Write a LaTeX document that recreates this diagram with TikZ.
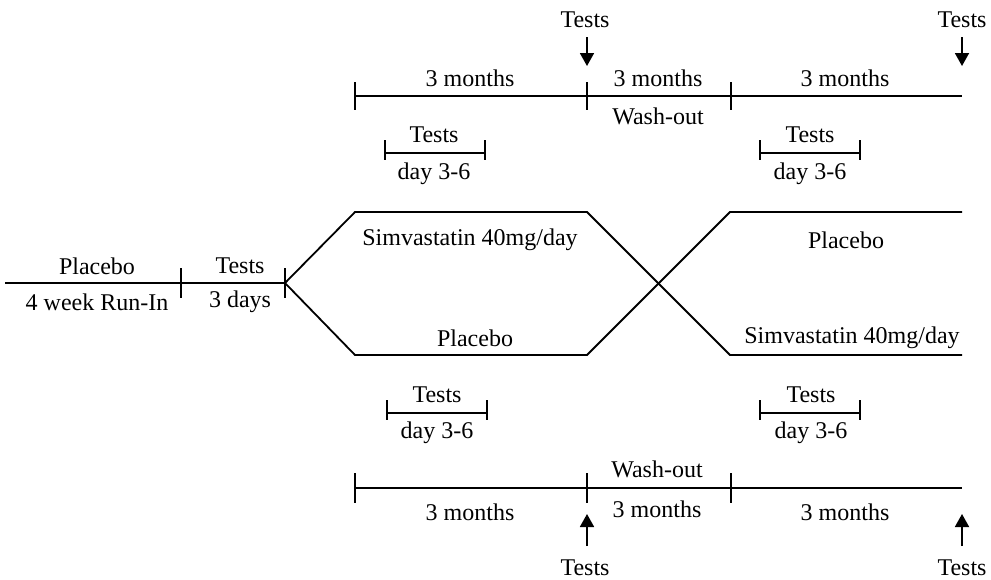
\documentclass[tikz,border=0pt]{standalone}
\usepackage{fontspec}
\setmainfont{Liberation Serif}
\usetikzlibrary{arrows.meta}
\usetikzlibrary{positioning}

\begin{document}
\begin{tikzpicture}
          [x=0.5pt, y=-0.5pt, line width=0.9pt,
           every node/.style={font=\fontsize{12}{14}\selectfont, inner sep=1pt},
           testarrow/.style={-{Triangle[length=6.5pt, width=7pt]}}]
          \useasboundingbox (0,0) rectangle (991,579);

          % run-in and the two arms
          \coordinate (s) at (5,283);
          \coordinate (r) at (181,283);
          \coordinate (v) at (285,283);
          \coordinate (ua) at (355,212);
          \coordinate (ub) at (587,212);
          \coordinate (uc) at (730,212);
          \coordinate (ud) at (962,212);
          \coordinate (la) at (355,355);
          \coordinate (lb) at (587,355);
          \coordinate (lc) at (730,355);
          \coordinate (ld) at (962,355);

          \draw (s) -- (v);
          \draw (r) ++(0,-15) -- ++(0,30);
          \draw (v) ++(0,-15) -- ++(0,30);
          \draw (v) -- (ua) -- (ub) -- (lc) -- (ld);
          \draw (v) -- (la) -- (lb) -- (uc) -- (ud);

          \node (plc0) at (97,266) {Placebo};
          \node (run) at (97,302) {4 week Run-In};
          \node (tst0) at (240,266) {Tests};
          \node (days) at (240,302) {3 days};
          \node (simA) at (470,240) {Simvastatin 40mg/day};
          \node (plcA) at (475,338) {Placebo};
          \node (plcB) at (846,240) {Placebo};
          \node (simB) at (852,338) {Simvastatin 40mg/day};

          % upper time line
          \coordinate (ta) at (355,96);
          \coordinate (tb) at (587,96);
          \coordinate (tc) at (731,96);
          \coordinate (td) at (962,96);
          \draw (ta) -- (td);
          \foreach \p in {ta,tb,tc}
            \draw (\p) ++(0,-14) -- ++(0,28);
          \node (mA1) at (470,78) {3 months};
          \node (mA2) at (658,78) {3 months};
          \node (mA3) at (845,78) {3 months};
          \node (wA) at (658,116) {Wash-out};

          \node (tA1) at (585,20) {Tests};
          \node (tA2) at (962,20) {Tests};
          \coordinate (aA1) at (587,37);
          \coordinate (hA1) at (587,66);
          \coordinate (aA2) at (962,37);
          \coordinate (hA2) at (962,66);
          \draw[testarrow] (aA1) -- (hA1);
          \draw[testarrow] (aA2) -- (hA2);

          % short test periods, upper
          \coordinate (ka) at (385,153);
          \coordinate (kb) at (485,153);
          \coordinate (kc) at (760,153);
          \coordinate (kd) at (860,153);
          \draw (ka) -- (kb);
          \draw (kc) -- (kd);
          \foreach \p in {ka,kb,kc,kd}
            \draw (\p) ++(0,-13) -- ++(0,20);
          \node (kt1) at (434,135) {Tests};
          \node (kd1) at (434,174) {day 3-6};
          \node (kt2) at (810,135) {Tests};
          \node (kd2) at (810,174) {day 3-6};

          % short test periods, lower
          \coordinate (qa) at (387,413);
          \coordinate (qb) at (487,413);
          \coordinate (qc) at (760,413);
          \coordinate (qd) at (860,413);
          \draw (qa) -- (qb);
          \draw (qc) -- (qd);
          \foreach \p in {qa,qb,qc,qd}
            \draw (\p) ++(0,-13) -- ++(0,20);
          \node (qt1) at (437,395) {Tests};
          \node (qd1) at (437,433) {day 3-6};
          \node (qt2) at (811,395) {Tests};
          \node (qd2) at (811,433) {day 3-6};

          % lower time line
          \coordinate (ba) at (355,488);
          \coordinate (bb) at (587,488);
          \coordinate (bc) at (731,488);
          \coordinate (bd) at (962,488);
          \draw (ba) -- (bd);
          \foreach \p in {ba,bb,bc}
            \draw (\p) ++(0,-15) -- ++(0,30);
          \node (wB) at (657,469) {Wash-out};
          \node (mB1) at (470,512) {3 months};
          \node (mB2) at (657,509) {3 months};
          \node (mB3) at (845,512) {3 months};

          \node (tB1) at (585,568) {Tests};
          \node (tB2) at (962,568) {Tests};
          \coordinate (aB1) at (587,546);
          \coordinate (hB1) at (587,514);
          \coordinate (aB2) at (962,546);
          \coordinate (hB2) at (962,514);
          \draw[testarrow] (aB1) -- (hB1);
          \draw[testarrow] (aB2) -- (hB2);

        \end{tikzpicture}
\end{document}
